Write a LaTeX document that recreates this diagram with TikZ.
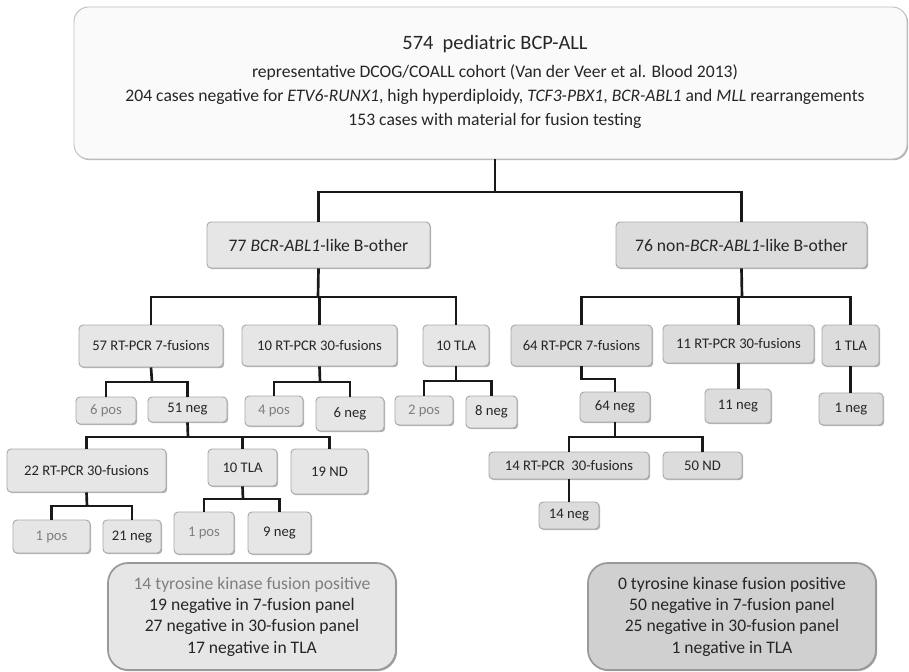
\documentclass[tikz,border=0pt]{standalone}
\usepackage{fontspec}
\setmainfont{Carlito}
\usetikzlibrary{shadows,calc}
\definecolor{boxl}{HTML}{E6E6E6}
\definecolor{boxr}{HTML}{DCDCDC}
\definecolor{boxs}{HTML}{D0D0D0}
\definecolor{bordc}{HTML}{A8A8A8}
\definecolor{txt}{HTML}{262626}
\definecolor{postxt}{HTML}{7F7F7F}
\newcommand{\fsS}{\fontsize{11}{13}\selectfont}
\newcommand{\fsL}{\fontsize{13.2}{16}\selectfont}
\newcommand{\fsT}{\fontsize{15.3}{18}\selectfont}
\begin{document}
\begin{tikzpicture}[x=0.75pt,y=-0.75pt,
 bx/.style={draw=bordc, fill=boxl, rounded corners=3pt, line width=0.7pt, inner sep=0pt, font=\fsS, text=txt,
   drop shadow={shadow xshift=0.9pt, shadow yshift=-0.9pt, fill=black, opacity=0.3}},
 rbx/.style={bx, fill=boxr},
 sz/.style 2 args={minimum width=#1*0.75pt, minimum height=#2*0.75pt},
 graytext/.style={text=postxt},
 conn/.style={line width=2pt, black!90},
 sumbox/.style={bx, rounded corners=15pt, draw=black!40, line width=1.3pt, font=\fsL, align=center}
]
\useasboundingbox (0,0) rectangle (909,671);

% top box
\node[bx, fill=white!98!black, draw=black!25, rounded corners=11pt, sz={833}{152}] (top) at (490.5,83) {};
\node[font=\fsT, text=txt] (t1) at (495,44) {574\ \ pediatric BCP-ALL};
\node[font=\fsL, text=txt] (t2) at (495,72) {representative DCOG/COALL cohort (Van der Veer et al. Blood 2013)};
\node[font=\fsL, text=txt] (t3) at (495,97) {204 cases negative for \textit{ETV6-RUNX1}, high hyperdiploidy, \textit{TCF3-PBX1}, \textit{BCR-ABL1} and \textit{MLL} rearrangements};
\node[font=\fsL, text=txt] (t4) at (495,121) {153 cases with material for fusion testing};

% level 1
\node[bx, font=\fsL, sz={223}{46}] (A) at (318.5,245) {77 \textit{BCR-ABL1}-like B-other};
\node[rbx, font=\fsL, sz={251}{46}] (B) at (741.5,245) {76 non-\textit{BCR-ABL1}-like B-other};

% level 2 left
\node[bx, sz={144}{42}] (A1) at (151,346) {57 RT-PCR 7-fusions};
\node[bx, sz={155}{41}] (A2) at (319.5,345.5) {10 RT-PCR 30-fusions};
\node[bx, sz={66}{41}] (A3) at (456,345.5) {10 TLA};

% level 3 left
\node[bx, graytext, sz={60}{27}] (p1) at (106,410.5) {6 pos};
\node[bx, sz={79}{25}] (n1) at (187.5,409.5) {51 neg};
\node[bx, graytext, sz={58}{30}] (p2) at (274,411) {4 pos};
\node[bx, sz={68}{34}] (n2) at (350,414) {6 neg};
\node[bx, graytext, sz={58}{29}] (p3) at (424,410.5) {2 pos};
\node[bx, sz={51}{32}] (n3) at (491.5,412) {8 neg};

% level 4 left
\node[bx, sz={159}{43}] (L1) at (86.5,470.5) {22 RT-PCR 30-fusions};
\node[bx, sz={69}{37}] (L2) at (242.5,467.5) {10 TLA};
\node[bx, sz={77}{45}] (L3) at (329.5,471.5) {19 ND};

% level 5 left
\node[bx, graytext, sz={77}{33}] (p4) at (51.5,536.5) {1 pos};
\node[bx, sz={58}{33}] (n4) at (132,536.5) {21 neg};
\node[bx, graytext, sz={60}{42}] (p5) at (204,533) {1 pos};
\node[bx, sz={63}{42}] (n5) at (279.5,533) {9 neg};

% right side
\node[rbx, sz={141}{41}] (B1) at (581.5,345.5) {64 RT-PCR 7-fusions};
\node[rbx, sz={151}{38}] (B2) at (738.5,344) {11 RT-PCR 30-fusions};
\node[rbx, sz={57}{41}] (B3) at (850.5,345.5) {1 TLA};
\node[rbx, sz={70}{30}] (n6) at (615,407) {64 neg};
\node[rbx, sz={66}{34}] (n7) at (738,406) {11 neg};
\node[rbx, sz={64}{32}] (n8) at (851,409) {1 neg};
\node[rbx, sz={160}{27}] (R1) at (569,465.5) {14 RT-PCR\ \ 30-fusions};
\node[rbx, sz={79}{27}] (R2) at (702.5,465.5) {50 ND};
\node[rbx, sz={60}{27}] (n9) at (569,515.5) {14 neg};

% summaries
\node[sumbox, sz={288}{107}] (S1) at (252,616.5) {{\color{postxt}14 tyrosine kinase fusion positive}\\19 negative in 7-fusion panel\\27 negative in 30-fusion panel\\17 negative in TLA};
\node[sumbox, fill=boxs, sz={288}{107}] (S2) at (732,616.5) {0 tyrosine kinase fusion positive\\50 negative in 7-fusion panel\\25 negative in 30-fusion panel\\1 negative in TLA};

% junctions
\coordinate (j0) at (495,192);
\coordinate (ja) at (318,297);
\coordinate (jb) at (742,297);
\coordinate (ja1) at (152,382);
\coordinate (ja2) at (320,382);
\coordinate (ja3) at (456,381);
\coordinate (jn1) at (188,437);
\coordinate (jl1) at (87,506);
\coordinate (jl2) at (243,499);
\coordinate (jb1) at (598,379);
\coordinate (jn6) at (615,437);

% connectors
\draw[conn] (j0 |- top.south) -- (j0);
\draw[conn] (A.north) |- (j0) -| (B.north);

\draw[conn] (A.south) -- (ja);
\draw[conn] (A1.north) |- (ja) -| (A3.north);
\draw[conn] (ja) -| (A2.north);

\draw[conn] (A1.south) -- (ja1);
\draw[conn] (p1.north) |- (ja1) -| (n1.north);
\draw[conn] (A2.south) -- (ja2);
\draw[conn] (p2.north) |- (ja2) -| (n2.north);
\draw[conn] (A3.south) -- (ja3);
\draw[conn] (p3.north) |- (ja3) -| (n3.north);

\draw[conn] (n1.south) -- (jn1);
\draw[conn] (L1.north) |- (jn1) -| (L3.north);
\draw[conn] (jn1) -| (L2.north);

\draw[conn] (L1.south) -- (jl1);
\draw[conn] (p4.north) |- (jl1) -| (n4.north);
\draw[conn] (L2.south) -- (jl2);
\draw[conn] (p5.north) |- (jl2) -| (n5.north);

\draw[conn] (B.south) -- (jb);
\draw[conn] (B1.north) |- (jb) -| (B3.north);
\draw[conn] (jb) -| (B2.north);

\draw[conn] (B1.south) |- (jb1) -| (n6.north);
\draw[conn] (B2.south) -- (B2.south |- n7.north);
\draw[conn] (B3.south) -- (B3.south |- n8.north);

\draw[conn] (n6.south) -- (jn6);
\draw[conn] (R1.north) |- (jn6) -| (R2.north);
\draw[conn] (R1.south) -- (R1.south |- n9.north);
\end{tikzpicture}
\end{document}
